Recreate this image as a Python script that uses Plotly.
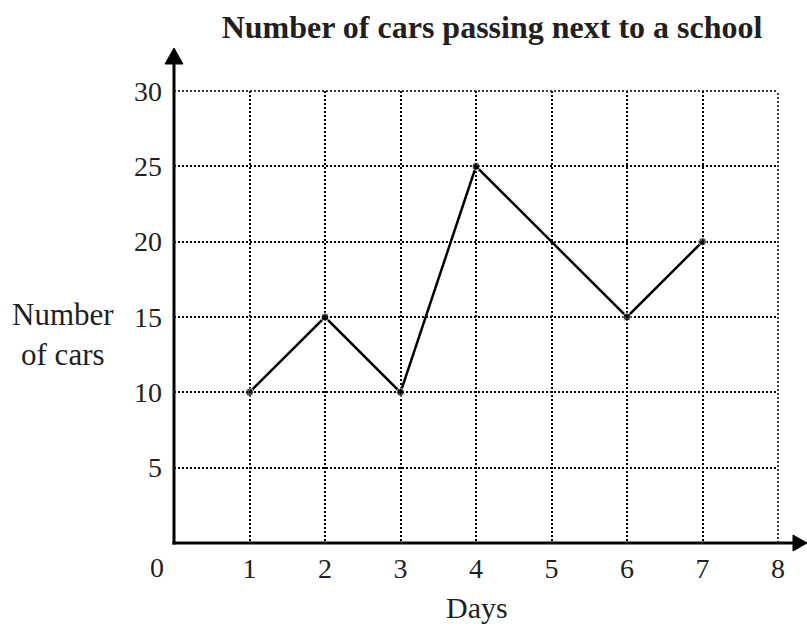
import plotly.graph_objects as go

days = [1, 2, 3, 4, 5, 6, 7]
cars = [10, 15, 10, 25, 20, 15, 20]
marker_sizes = [8, 8, 8, 8, 0, 8, 8]
x_ticks = [1, 2, 3, 4, 5, 6, 7, 8]
y_ticks = [5, 10, 15, 20, 25, 30]

W, H = 807, 628
L, R, T, B = 174, 29, 91, 85
pw, ph = W - L - R, H - T - B

def px(x):
    return (x - L) / pw

def py(y):
    return (H - B - y) / ph

FONT = "Liberation Serif, Times New Roman, serif"
TXT = "#231f20"

fig = go.Figure()
fig.add_trace(go.Scatter(
    x=days, y=cars, mode="lines+markers",
    line=dict(color="black", width=2.5),
    marker=dict(color="black", size=marker_sizes),
    showlegend=False, cliponaxis=False,
))

grid_style = dict(color="black", width=1.5, dash="2px,2px")
shapes = [
    # edge grid lines (x = 8 and y = 30)
    dict(type="line", xref="paper", yref="paper", x0=1, y0=0, x1=1, y1=1, line=grid_style),
    dict(type="line", xref="paper", yref="paper", x0=0, y0=1, x1=1, y1=1, line=grid_style),
    # x axis line + arrow
    dict(type="line", xref="paper", yref="paper", x0=px(L - 1.5), y0=0, x1=px(797), y1=0,
         line=dict(color="black", width=3)),
    dict(type="path", xref="paper", yref="paper",
         path=f"M {px(793)} {py(H-B-8)} L {px(807)} 0 L {px(793)} {py(H-B+8)} Z",
         fillcolor="black", line=dict(color="black", width=1)),
    # y axis line + arrow
    dict(type="line", xref="paper", yref="paper", x0=0, y0=py(H - B + 1.5), x1=0, y1=py(62),
         line=dict(color="black", width=3)),
    dict(type="path", xref="paper", yref="paper",
         path=f"M {px(L-9)} {py(64)} L 0 {py(48)} L {px(L+9)} {py(64)} Z",
         fillcolor="black", line=dict(color="black", width=1)),
]

annotations = [
    dict(text="0", xref="paper", yref="paper", x=px(157), y=py(567),
         xanchor="center", yanchor="middle",
         showarrow=False, font=dict(family=FONT, size=28, color=TXT)),
    dict(text="Days", xref="paper", yref="paper", x=px(477), y=py(607),
         xanchor="center", yanchor="middle",
         showarrow=False, font=dict(family=FONT, size=30, color=TXT)),
    dict(text="Number<br>of cars", xref="paper", yref="paper", x=px(63), y=py(334),
         xanchor="center", yanchor="middle",
         showarrow=False, align="center", font=dict(family=FONT, size=31, color=TXT)),
]

fig.update_layout(
    width=W, height=H,
    margin=dict(l=L, r=R, t=T, b=B),
    plot_bgcolor="white", paper_bgcolor="white",
    title=dict(text="<b>Number of cars passing next to a school</b>",
               xref="container", x=492 / W, xanchor="center",
               yref="container", y=1 - 27 / H, yanchor="middle",
               font=dict(family=FONT, size=32, color=TXT)),
    xaxis=dict(range=[0, 8], tickvals=x_ticks, ticktext=[str(v) for v in x_ticks],
               showgrid=True, gridcolor="black", gridwidth=1.5, griddash="2px,2px",
               zeroline=False, showline=False, ticks="",
               ticklabelstandoff=6,
               tickfont=dict(family=FONT, size=28, color=TXT), fixedrange=True),
    yaxis=dict(range=[0, 30], tickvals=y_ticks, ticktext=[str(v) for v in y_ticks],
               showgrid=True, gridcolor="black", gridwidth=1.5, griddash="2px,2px",
               zeroline=False, showline=False, ticks="",
               ticklabelstandoff=11,
               tickfont=dict(family=FONT, size=28, color=TXT), fixedrange=True),
    shapes=shapes, annotations=annotations,
)

fig.write_html(
    "out.html",
    config={"displayModeBar": False},
    post_script="document.body.style.margin='0';document.body.style.overflow='hidden';",
)
